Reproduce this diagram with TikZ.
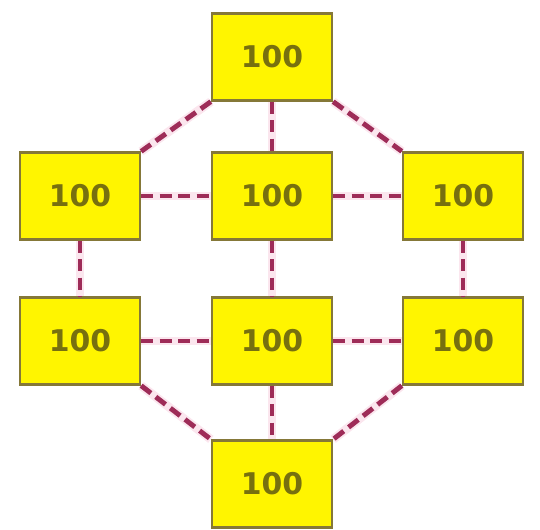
\documentclass[tikz,border=0pt]{standalone}
\usepackage{fontspec}
\setmainfont{DejaVu Sans}
\usepackage{tikz}
\definecolor{boxfill}{HTML}{FFF500}
\definecolor{boxline}{HTML}{857838}
\definecolor{numtext}{HTML}{77700F}
\definecolor{linkred}{HTML}{9E2C58}
\definecolor{linkglow}{HTML}{FBE6EE}

\begin{document}
\begin{tikzpicture}[cell/.style={rectangle,draw=boxline,line width=1.3pt,fill=boxfill,minimum width=2.4cm,minimum height=1.74cm,inner sep=0pt,text=numtext,font=\fontsize{17}{17}\selectfont\bfseries},
link/.style={draw=linkred,line width=2.8pt,dash pattern=on 7pt off 3.5pt,preaction={draw=linkglow,line width=5pt,solid}}]
\useasboundingbox (0,0) rectangle (10.8,-10.6);
\node [cell] (top) at (5.44,-1.14) {100};
\node [cell] (ml) at (1.6,-3.92) {100};
\node [cell] (mc) at (5.44,-3.92) {100};
\node [cell] (mr) at (9.26,-3.92) {100};
\node [cell] (bl) at (1.6,-6.82) {100};
\node [cell] (bc) at (5.44,-6.82) {100};
\node [cell] (br) at (9.26,-6.82) {100};
\node [cell] (bot) at (5.44,-9.68) {100};

\draw [link] (top.south west) -- (ml.north east);
\draw [link] (top) -- (mc);
\draw [link] (top.south east) -- (mr.north west);
\draw [link] (ml) -- (mc);
\draw [link] (mc) -- (mr);
\draw [link] (ml) -- (bl);
\draw [link] (mc) -- (bc);
\draw [link] (mr) -- (br);
\draw [link] (bl) -- (bc);
\draw [link] (bc) -- (br);
\draw [link] (bl.south east) -- (bot.north west);
\draw [link] (bc) -- (bot);
\draw [link] (br.south west) -- (bot.north east);
\end{tikzpicture}
\end{document}
